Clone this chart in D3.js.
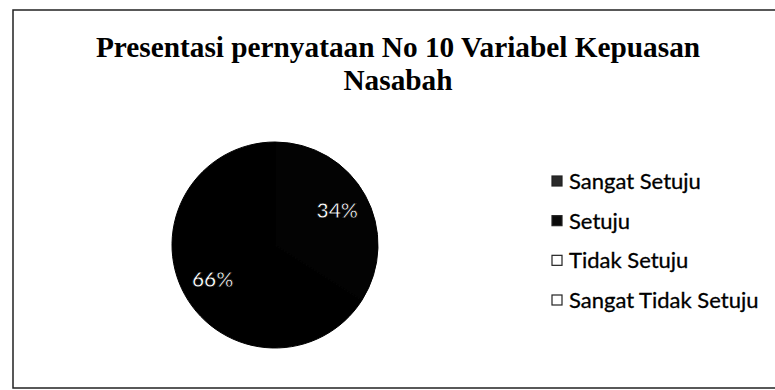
<!DOCTYPE html>
<html><head><meta charset="utf-8">
<script src="https://cdn.jsdelivr.net/npm/d3@7"></script>
<style>body{margin:0;background:#fff}svg{display:block}</style>
</head><body>
<svg id="c" width="775" height="390"></svg>
<script>
const titleLines = ["Presentasi pernyataan No 10 Variabel Kepuasan", "Nasabah"];
const categories = ["Sangat Setuju", "Setuju", "Tidak Setuju", "Sangat Tidak Setuju"];
const values = [34, 66, 0, 0];
const labels = ["34%", "66%", "", ""];
const sliceColors = ["#030303", "#000000", "#ffffff", "#ffffff"];
const legendFill = ["#2a2a2a", "#0a0a0a", "#ffffff", "#ffffff"];

const svg = d3.select("#c");
svg.append("rect").attr("x", 13).attr("y", 10).attr("width", 800).attr("height", 378)
  .attr("fill", "#fff").attr("stroke", "#222").attr("stroke-width", 1.5);

svg.append("text").attr("text-anchor", "middle")
  .attr("font-family", "Liberation Serif, Times New Roman, serif").attr("font-weight", "bold")
  .attr("font-size", 29.3).attr("fill", "#000")
  .selectAll("tspan").data(titleLines).join("tspan")
  .attr("x", 398).attr("y", (d, i) => 57 + i * 33).text(d => d);

const cx = 275, cy = 245, r = 103;
const pie = d3.pie().sort(null).value(d => d);
const arcs = pie(values);
const arc = d3.arc().innerRadius(0).outerRadius(r);
const labelArc = d3.arc().innerRadius(r * 0.69).outerRadius(r * 0.69);
const g = svg.append("g").attr("transform", `translate(${cx},${cy})`);
g.selectAll("path").data(arcs).join("path")
  .attr("d", arc).attr("fill", (d, i) => sliceColors[i]).attr("stroke", "#000").attr("stroke-width", 1);
g.selectAll("text").data(arcs).join("text")
  .attr("transform", d => `translate(${labelArc.centroid(d)})`)
  .attr("text-anchor", "middle").attr("dy", "0.36em")
  .attr("font-family", "Lato, sans-serif").attr("font-size", 21).attr("font-weight", "bold")
  .attr("fill", "#fff").attr("stroke", "#000").attr("stroke-width", 0.8).attr("paint-order", "fill")
  .text((d, i) => labels[i]);

const ly = d3.scalePoint().domain(categories).range([181, 300]);
const lg = svg.append("g");
const items = lg.selectAll("g").data(categories).join("g")
  .attr("transform", d => `translate(552,${ly(d)})`);
items.append("rect").attr("x", 0).attr("y", -5).attr("width", 10).attr("height", 10)
  .attr("fill", (d, i) => legendFill[i]).attr("stroke", "#222").attr("stroke-width", 1.2);
items.append("text").attr("x", 17).attr("dy", "0.36em")
  .attr("font-family", "Lato, sans-serif").attr("font-size", 22).attr("fill", "#000")
  .attr("stroke", "#000").attr("stroke-width", 0.3)
  .text(d => d);
</script>
</body></html>
